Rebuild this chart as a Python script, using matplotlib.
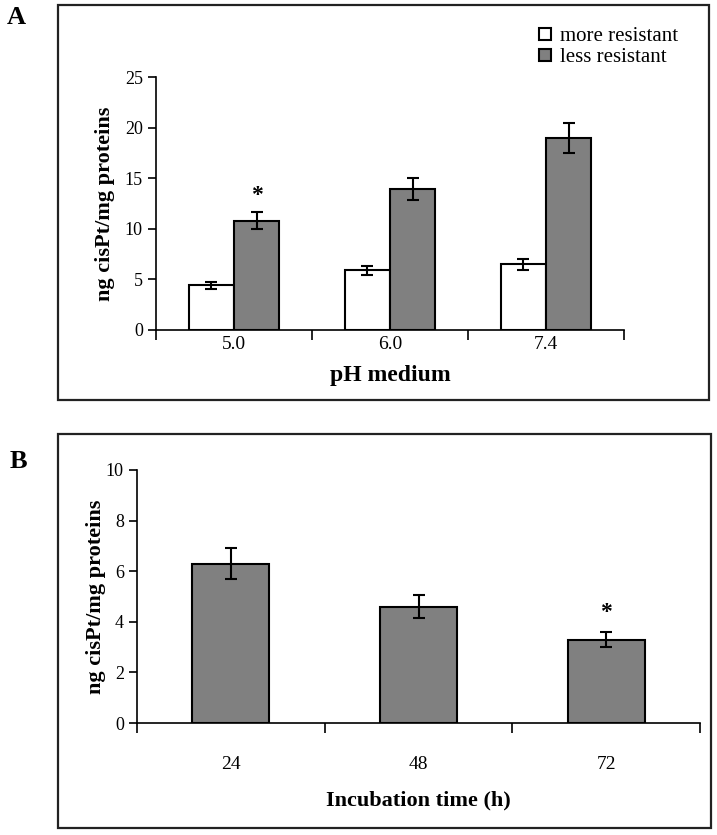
import matplotlib
matplotlib.use('agg')
import matplotlib.pyplot as plt
from matplotlib.patches import Rectangle
import numpy as np

plt.rcParams['font.family'] = ['Liberation Serif', 'DejaVu Serif']

# panel A: cisPt uptake vs pH
ph_labels = ['5.0', '6.0', '7.4']
more_resistant = [4.4, 5.9, 6.5]
more_resistant_err = [0.35, 0.45, 0.55]
less_resistant = [10.8, 13.9, 19.0]
less_resistant_err = [0.85, 1.1, 1.5]
a_star_index = 0

# panel B: cisPt uptake vs incubation time
time_labels = ['24', '48', '72']
time_values = [6.3, 4.6, 3.3]
time_err = [0.6, 0.45, 0.3]
b_star_index = 2

W, H = 717, 835
GREY = '#808080'


def fx(px):
    return px / W


def fy(py):
    return 1 - py / H


def frame(fig, x0, y0, x1, y1):
    fig.patches.append(Rectangle((fx(x0), fy(y1)), fx(x1) - fx(x0), fy(y0) - fy(y1),
                                 transform=fig.transFigure, fill=False,
                                 edgecolor='#222222', linewidth=1.6))


def style_axes(ax, n):
    for s in ['top', 'right']:
        ax.spines[s].set_visible(False)
    ax.spines['left'].set_linewidth(1.2)
    ax.spines['bottom'].set_linewidth(1.2)
    ax.set_xlim(-0.5, n - 0.5)
    # ticks at category boundaries, labels at centres
    ax.set_xticks(np.arange(n + 1) - 0.5)
    ax.set_xticklabels([])
    ax.set_xticks(np.arange(n), minor=True)
    ax.tick_params(axis='x', which='major', direction='out', length=7, width=1.2)
    ax.tick_params(axis='x', which='minor', length=0, labelsize=14)
    ax.tick_params(axis='y', direction='out', length=6, width=1.2, labelsize=13)


def plot_panel_a(fig):
    ax = fig.add_axes([fx(156), fy(330), fx(624) - fx(156), fy(77) - fy(330)])
    x = np.arange(len(ph_labels))
    w = 0.29
    ekw = dict(elinewidth=1.5, capthick=1.5, ecolor='black')
    ax.bar(x - w / 2, more_resistant, w, color='white', edgecolor='black', linewidth=1.5,
           yerr=more_resistant_err, capsize=4, error_kw=ekw, label='more resistant')
    ax.bar(x + w / 2, less_resistant, w, color=GREY, edgecolor='black', linewidth=1.5,
           yerr=less_resistant_err, capsize=4, error_kw=ekw, label='less resistant')
    ax.set_ylim(0, 25)
    ax.set_yticks([0, 5, 10, 15, 20, 25])
    style_axes(ax, len(ph_labels))
    ax.set_xticklabels(ph_labels, minor=True)
    ax.tick_params(axis='x', which='minor', pad=4)
    ax.text(a_star_index + w / 2, less_resistant[a_star_index] + less_resistant_err[a_star_index] + 0.6,
            '*', ha='center', va='bottom', fontsize=17, fontweight='bold')
    ax.set_ylabel('ng cisPt/mg proteins', fontsize=16, fontweight='bold', labelpad=7)
    ax.set_xlabel('pH medium', fontsize=17, fontweight='bold', labelpad=9)
    ax.legend(loc='upper left', bbox_to_anchor=(fx(531), fy(19)),
              bbox_transform=fig.transFigure, frameon=False, fontsize=15,
              handlelength=0.55, handleheight=0.55, handletextpad=0.45,
              labelspacing=0.1, borderaxespad=0)
    fig.text(fx(16), fy(18), 'A', fontsize=19, fontweight='bold', va='center', ha='center')
    frame(fig, 58, 5, 709, 400)


def plot_panel_b(fig):
    ax = fig.add_axes([fx(137), fy(723), fx(700) - fx(137), fy(470) - fy(723)])
    x = np.arange(len(time_labels))
    ekw = dict(elinewidth=1.5, capthick=1.5, ecolor='black')
    ax.bar(x, time_values, 0.41, color=GREY, edgecolor='black', linewidth=1.5,
           yerr=time_err, capsize=4, error_kw=ekw)
    ax.set_ylim(0, 10)
    ax.set_yticks([0, 2, 4, 6, 8, 10])
    style_axes(ax, len(time_labels))
    ax.set_xticklabels(time_labels, minor=True)
    ax.tick_params(axis='x', which='minor', pad=24)
    ax.text(b_star_index, time_values[b_star_index] + time_err[b_star_index] + 0.35,
            '*', ha='center', va='bottom', fontsize=17, fontweight='bold')
    ax.set_ylabel('ng cisPt/mg proteins', fontsize=16, fontweight='bold', labelpad=0)
    ax.set_xlabel('Incubation time (h)', fontsize=16, fontweight='bold', labelpad=12)
    fig.text(fx(18), fy(462), 'B', fontsize=19, fontweight='bold', va='center', ha='center')
    frame(fig, 58, 434, 711, 828)


def main():
    fig = plt.figure(figsize=(W / 100, H / 100), dpi=100)
    plot_panel_a(fig)
    plot_panel_b(fig)
    fig.savefig('out.png', dpi=100)


if __name__ == '__main__':
    main()
